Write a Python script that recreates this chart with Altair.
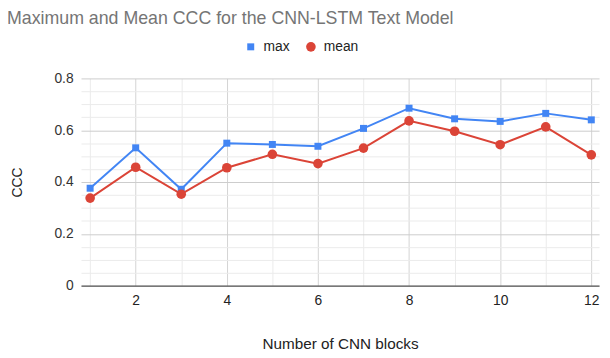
import altair as alt
import pandas as pd

blocks = [1, 2, 3, 4, 5, 6, 7, 8, 9, 10, 11, 12]
max_ccc = [0.376, 0.532, 0.372, 0.550, 0.545, 0.538, 0.607, 0.685, 0.644, 0.634, 0.665, 0.640]
mean_ccc = [0.338, 0.457, 0.353, 0.455, 0.507, 0.471, 0.531, 0.636, 0.596, 0.544, 0.613, 0.505]
series = ["max", "mean"]
colors = ["#4285F4", "#DB4437"]
shapes = ["square", "circle"]
sizes = [50, 95]
y_major = [0, 0.2, 0.4, 0.6, 0.8]
y_minor = [0.05, 0.1, 0.15, 0.25, 0.3, 0.35, 0.45, 0.5, 0.55, 0.65, 0.7, 0.75]
x_major = [2, 4, 6, 8, 10, 12]
x_minor = [1, 3, 5, 7, 9, 11]

df = pd.concat([
    pd.DataFrame({"blocks": blocks, "ccc": max_ccc, "series": "max"}),
    pd.DataFrame({"blocks": blocks, "ccc": mean_ccc, "series": "mean"}),
])

FONT = "Liberation Sans"
xscale = alt.Scale(domain=[0.8, 12.17], nice=False, zero=False)
yscale = alt.Scale(domain=[0, 0.8], nice=False)
cscale = alt.Scale(domain=series, range=colors)

base = alt.Chart(df)

lines = base.mark_line(strokeWidth=2).encode(
    x=alt.X("blocks:Q", scale=xscale, axis=alt.Axis(
        orient="bottom", values=x_minor, grid=True, gridColor="#ebebeb",
        labels=False, ticks=False, domain=False, title=None)),
    y=alt.Y("ccc:Q", scale=yscale, axis=alt.Axis(
        orient="left", values=y_minor, grid=True, gridColor="#ebebeb",
        labels=False, ticks=False, domain=False, title=None)),
    color=alt.Color("series:N", scale=cscale, title=None),
)

points = base.mark_point(filled=True, opacity=1).encode(
    x=alt.X("blocks:Q", scale=xscale, axis=alt.Axis(
        orient="bottom", values=x_major, grid=True, gridColor="#d3d3d3",
        labelFont=FONT, labelFontSize=14, labelColor="#222", labelPadding=8,
        ticks=False, domain=True, domainColor="#333", domainWidth=1,
        title="Number of CNN blocks", titleFont=FONT, titleFontSize=15.5,
        titleFontWeight="normal", titleColor="#222", titlePadding=30)),
    y=alt.Y("ccc:Q", scale=yscale, axis=alt.Axis(
        orient="left", values=y_major, grid=True, gridColor="#cccccc",
        labelFont=FONT, labelFontSize=14, labelColor="#333", labelPadding=8,
        ticks=False, domain=False, format="~g",
        title="CCC", titleFont=FONT, titleFontSize=14,
        titleFontWeight="normal", titleColor="#222", titlePadding=30)),
    color=alt.Color("series:N", scale=cscale, title=None),
    shape=alt.Shape("series:N", scale=alt.Scale(domain=series, range=shapes), title=None),
    size=alt.Size("series:N", scale=alt.Scale(domain=series, range=sizes), title=None),
)

chart = alt.layer(lines, points).resolve_axis(x="independent", y="independent").properties(
    width=525,
    height=210,
    padding={"left": 74, "top": 69, "right": 3, "bottom": 71},
    autosize=alt.AutoSizeParams(type="none"),
    title=alt.Title(
        "Maximum and Mean CCC for the CNN-LSTM Text Model",
        anchor="start", frame="group", font=FONT, fontSize=18, fontWeight="normal",
        color="#757575", dx=-75, offset=12),
).configure_view(stroke=None).configure_legend(
    orient="none", legendX=165, legendY=-39, direction="horizontal",
    labelFont=FONT, labelFontSize=14, labelColor="#222", columnPadding=14,
    symbolStrokeWidth=0, labelOffset=6,
)

chart.save("out.html", embed_options={"renderer": "svg", "actions": False})
